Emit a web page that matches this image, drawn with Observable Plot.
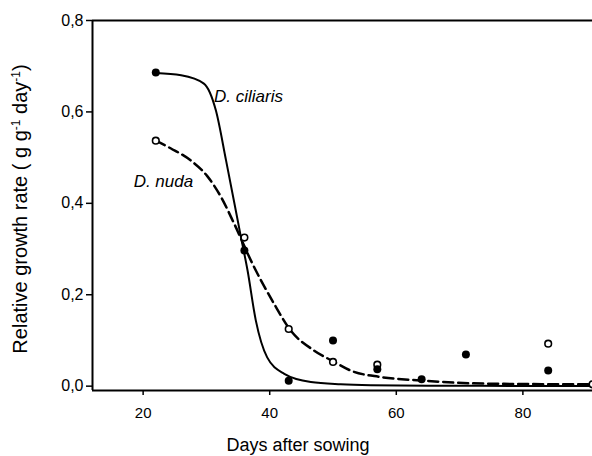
<!DOCTYPE html>
<html>
<head>
<meta charset="utf-8">
<script src="https://cdn.jsdelivr.net/npm/d3@7"></script>
<script src="https://cdn.jsdelivr.net/npm/@observablehq/plot@0.6"></script>
<style>
  html, body { margin: 0; padding: 0; background: #fff; }
  #chart svg { display: block; }
</style>
</head>
<body>
<div id="chart"></div>
<script>
// Observed data
const ciliarisDays = [22, 36, 43, 50, 57, 64, 71, 84];
const ciliarisRGR  = [0.686, 0.297, 0.012, 0.100, 0.037, 0.015, 0.069, 0.034];
const nudaDays = [22, 36, 43, 50, 57, 84, 91];
const nudaRGR  = [0.537, 0.325, 0.125, 0.053, 0.047, 0.093, 0.004];

// Fitted curves
const ciliarisFitDays = [22, 26, 29.6, 31.5, 33.1, 35.4, 36.5, 37.8, 39.6, 42.3, 46.5, 51.2, 56, 65, 80, 91];
const ciliarisFitRGR  = [0.685, 0.680, 0.662, 0.603, 0.494, 0.330, 0.253, 0.144, 0.063, 0.027, 0.009, 0.004, 0.002, 0.001, 0.0005, 0.0003];
const nudaFitDays = [22, 24.4, 27.5, 30.1, 32.3, 34.4, 37.2, 40.7, 43.3, 47, 50.2, 52.8, 57.5, 63.8, 69.6, 77, 91];
const nudaFitRGR  = [0.537, 0.520, 0.494, 0.460, 0.414, 0.355, 0.270, 0.180, 0.122, 0.078, 0.053, 0.034, 0.020, 0.0125, 0.0074, 0.005, 0.004];

// Ticks and labels
const xTicks = [20, 40, 60, 80];
const yTicks = [0, 0.2, 0.4, 0.6, 0.8];
const speciesLabels = ["D. ciliaris", "D. nuda"];
const labelDays = [31.2, 18.5];
const labelRGR = [0.634, 0.448];

const ciliaris = ciliarisDays.map((d, i) => ({day: d, rgr: ciliarisRGR[i]}));
const nuda = nudaDays.map((d, i) => ({day: d, rgr: nudaRGR[i]}));
const ciliarisFit = ciliarisFitDays.map((d, i) => ({day: d, rgr: ciliarisFitRGR[i]}));
const nudaFit = nudaFitDays.map((d, i) => ({day: d, rgr: nudaFitRGR[i]}));
const labels = speciesLabels.map((t, i) => ({t, day: labelDays[i], rgr: labelRGR[i]}));

const fmt = d => d.toFixed(1).replace(".", ",");
const font = "Liberation Sans, Arial, sans-serif";

const chart = Plot.plot({
  width: 592,
  height: 456,
  marginLeft: 92,
  marginRight: 0,
  marginTop: 20,
  marginBottom: 66,
  style: {fontFamily: font, background: "#fff", color: "#000", overflow: "hidden"},
  x: {domain: [12, 91]},
  y: {domain: [-0.0095, 0.8]},
  marks: [
    Plot.axisX(xTicks, {tickSize: 5, tickPadding: 12, fontSize: 15, label: null, strokeWidth: 1.5, tickFormat: d => String(d)}),
    Plot.axisY(yTicks, {tickSize: 6, tickPadding: 3, fontSize: 16, label: null, strokeWidth: 1.5, tickFormat: fmt}),
    Plot.ruleY([-0.0095], {stroke: "#000", strokeWidth: 2}),
    Plot.ruleX([12], {stroke: "#000", strokeWidth: 2}),
    Plot.ruleY([0.8], {stroke: "#000", strokeWidth: 2}),
    Plot.line(ciliarisFit, {x: "day", y: "rgr", curve: "monotone-x", stroke: "#000", strokeWidth: 2}),
    Plot.line(nudaFit, {x: "day", y: "rgr", curve: "monotone-x", stroke: "#000", strokeWidth: 2.5, strokeDasharray: "10,5"}),
    Plot.dot(nuda, {x: "day", y: "rgr", r: 3.3, fill: "#fff", stroke: "#000", strokeWidth: 1.6}),
    Plot.dot(ciliaris, {x: "day", y: "rgr", r: 4, fill: "#000", stroke: "none"}),
    Plot.text(labels, {x: "day", y: "rgr", text: "t", textAnchor: "start", lineAnchor: "middle", fontSize: 17, fontStyle: "italic", fill: "#000"})
  ]
});

const svg = d3.select(chart);
// x axis title
svg.append("text")
  .attr("x", 298).attr("y", 451)
  .attr("text-anchor", "middle")
  .attr("font-family", font).attr("font-size", 18).attr("fill", "#000")
  .text("Days after sowing");
// y axis title with superscripts
const yt = svg.append("text")
  .attr("transform", "translate(27,209) rotate(-90)")
  .attr("text-anchor", "middle")
  .attr("font-family", font).attr("font-size", 20).attr("fill", "#000");
yt.append("tspan").text("Relative growth rate ( g g");
yt.append("tspan").attr("font-size", 12).attr("baseline-shift", "super").text("-1");
yt.append("tspan").text(" day");
yt.append("tspan").attr("font-size", 12).attr("baseline-shift", "super").text("-1");
yt.append("tspan").text(")");

document.getElementById("chart").appendChild(chart);
</script>
</body>
</html>
